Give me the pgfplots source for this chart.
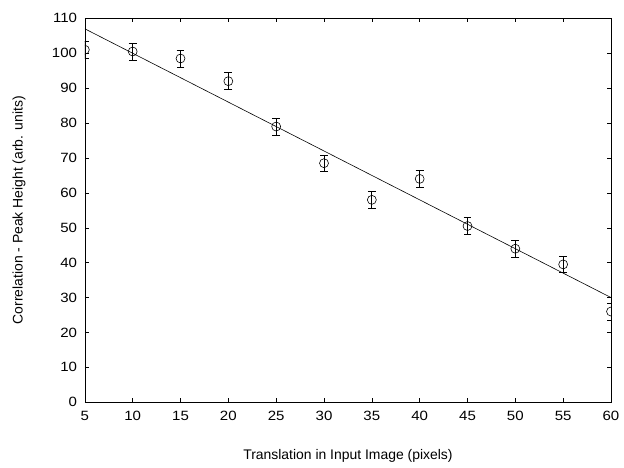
\documentclass[border={8bp 0bp 0bp 9bp}]{standalone}
\usepackage{fontspec}
\setmainfont{Liberation Sans}
\usepackage{pgfplots}
\pgfplotsset{compat=1.18}
\begin{document}
\fontsize{14bp}{17bp}\selectfont
\begin{tikzpicture}[x=1bp,y=1bp]
\begin{axis}[
    width=529bp, height=386bp,
    scale only axis,
    xmin=5, xmax=60, ymin=0, ymax=110,
    xtick={5,10,...,60},
    ytick={0,10,...,110},
    tick align=inside,
    major tick length=4bp,
    tick style={black, line width=0.4pt},
    axis line style={line width=0.7pt},
    /pgf/number format/assume math mode=true,
    ticklabel style={font=\fontsize{13.5bp}{16bp}\selectfont},
    xticklabel={\scalebox{1.12}[1]{\pgfmathprintnumber{\tick}}},
    yticklabel={\scalebox{1.12}[1]{\pgfmathprintnumber{\tick}}},
    yticklabel style={xshift=-3bp},
    xticklabel style={yshift=-4bp},
    label style={font=\fontsize{14bp}{17bp}\selectfont},
    xlabel={Translation in Input Image (pixels)},
    ylabel={Correlation - Peak Height (arb. units)},
    xlabel style={at={(axis description cs:0.5,-0.14)}, anchor=center},
    ylabel style={at={(axis description cs:-0.125,0.5)}, anchor=center},
    clip=true,
    clip marker paths=true,
]
\addplot[black, line width=0.6pt] coordinates {(5,107) (60,30)};
\addplot[black, only marks, mark=o, mark size=4.5bp, mark options={line width=0.6pt},
    error bars/.cd, y dir=both, y explicit,
    error bar style={line width=0.8pt},
    error mark options={rotate=90, mark size=4bp, line width=0.6pt}]
coordinates {
    (5,101) +- (0,2.4)
    (10,100.5) +- (0,2.4)
    (15,98.5) +- (0,2.4)
    (20,92) +- (0,2.4)
    (25,79) +- (0,2.4)
    (30,68.5) +- (0,2.4)
    (35,58) +- (0,2.4)
    (40,64) +- (0,2.4)
    (45,50.5) +- (0,2.4)
    (50,44) +- (0,2.4)
    (55,39.5) +- (0,2.4)
    (60,26) +- (0,2.4)
};
\end{axis}
\end{tikzpicture}
\end{document}
